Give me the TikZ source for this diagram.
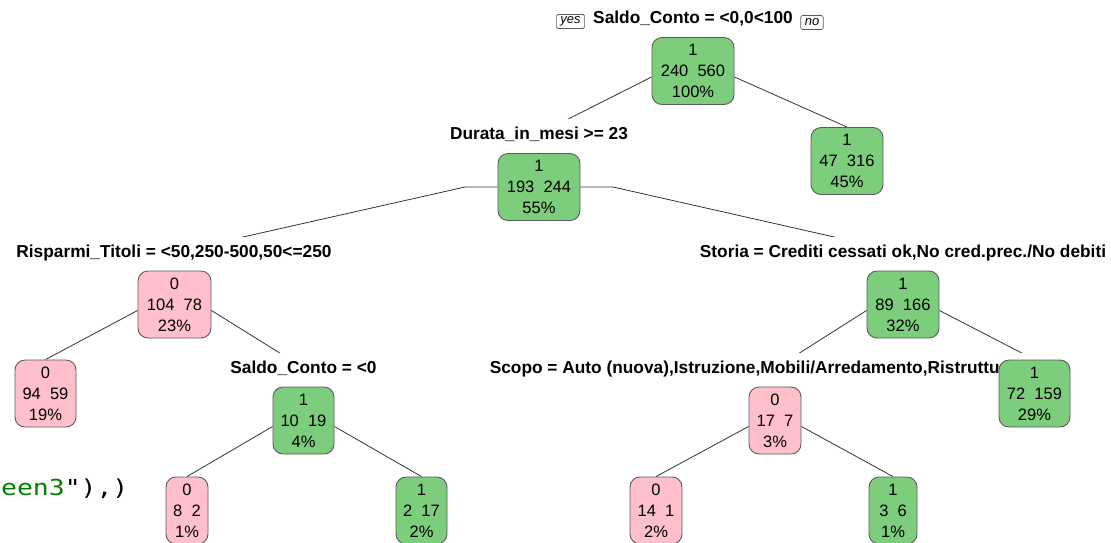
\documentclass[tikz,border=0pt]{standalone}
\usepackage{fontspec}
\setmainfont{Liberation Sans}
\newfontfamily\codefont[FakeStretch=1.2]{DejaVu Sans Mono}
\usetikzlibrary{backgrounds}
\definecolor{leafgreen}{HTML}{7CCD7C}
\definecolor{leafpink}{HTML}{FFC0CB}
\definecolor{boxborder}{HTML}{5A5A5A}
\definecolor{branchcol}{HTML}{333333}
\definecolor{codegreen}{HTML}{008000}

\begin{document}
\begin{tikzpicture}[x=1pt,y=-1pt,
  nodebox/.style={draw=boxborder, line width=0.9pt, rounded corners=10pt,
    minimum height=67pt, inner sep=0pt, align=center,
    font=\fontsize{16.5}{21}\selectfont},
  grn/.style={nodebox, fill=leafgreen},
  pnk/.style={nodebox, fill=leafpink},
  splitlabel/.style={anchor=base, fill=white, inner xsep=2pt, inner ysep=7.5pt,
    font=\bfseries\fontsize{17.3}{19}\selectfont},
  branch/.style={draw=branchcol, line width=0.8pt},
  tag/.style={draw=boxborder, line width=0.6pt, rounded corners=1.5pt,
    minimum height=14pt, inner xsep=4pt, inner ysep=1pt,
    font=\itshape\fontsize{13}{13}\selectfont}
]
\useasboundingbox (0,0) rectangle (1111,542);

% split conditions
\node[splitlabel] (rootL) at (693,23)  {Saldo\_Conto = <0,0<100};
\node[splitlabel] (durL)  at (539,139) {Durata\_in\_mesi >= 23};
\node[splitlabel] (risL)  at (174,257) {Risparmi\_Titoli = <50,250-500,50<=250};
\node[splitlabel] (stoL)  at (903,257) {Storia = Crediti cessati ok,No cred.prec./No debiti};
\node[splitlabel] (s0L)   at (303.5,373) {Saldo\_Conto = <0};
\node[splitlabel] (scoL)  at (775,373) {Scopo = Auto (nuova),Istruzione,Mobili/Arredamento,Ristrutturazione};

\node[tag] (yes) at (570.5,21.5) {yes};
\node[tag] (no)  at (812,22.5) {no};

% tree nodes: class, counts, share
\node[grn, minimum width=82pt] (root) at (693,71)    {1\\240~~560\\100\%};
\node[grn, minimum width=72pt] (r47)  at (847,161)   {1\\47~~316\\45\%};
\node[grn, minimum width=82pt] (dur)  at (539,187)   {1\\193~~244\\55\%};
\node[pnk, minimum width=73pt] (ris)  at (174.5,304.5) {0\\104~~78\\23\%};
\node[grn, minimum width=72pt] (sto)  at (903,304.5) {1\\89~~166\\32\%};
\node[pnk, minimum width=61pt] (n94)  at (45.5,393.5) {0\\94~~59\\19\%};
\node[grn, minimum width=61pt] (s0)   at (303.5,420.5) {1\\10~~19\\4\%};
\node[grn, minimum width=71pt] (n72)  at (1034.5,393.5) {1\\72~~159\\29\%};
\node[pnk, minimum width=52pt] (n17)  at (775,420.5) {0\\17~~7\\3\%};
\node[pnk, minimum width=42pt] (n8)   at (187,510.5) {0\\8~~2\\1\%};
\node[grn, minimum width=51pt] (n217) at (421.5,510.5) {1\\2~~17\\2\%};
\node[pnk, minimum width=52pt] (n14)  at (656,510.5) {0\\14~~1\\2\%};
\node[grn, minimum width=48pt] (n36)  at (893,510.5) {1\\3~~6\\1\%};

% shoulders of the second split
\coordinate (dl) at (465,187);
\coordinate (dr) at (613,187);

\begin{scope}[on background layer]
  \draw[branch] ([yshift=-6pt]root.west) -- (durL.center);
  \draw[branch] ([yshift=-6pt]root.east) -- (r47.north);
  \draw[branch] (dur.west) -- (dl) -- (risL.center);
  \draw[branch] (dur.east) -- (dr) -- (stoL.center);
  \draw[branch] ([yshift=-6pt]ris.west) -- (n94.north);
  \draw[branch] ([yshift=-6pt]ris.east) -- (s0L.center);
  \draw[branch] ([yshift=-6pt]sto.west) -- (scoL.center);
  \draw[branch] ([yshift=-6pt]sto.east) -- (n72.north);
  \draw[branch] ([yshift=-6pt]s0.west) -- (n8.north);
  \draw[branch] ([yshift=-6pt]s0.east) -- (n217.north);
  \draw[branch] ([yshift=-6pt]n17.west) -- (n14.north);
  \draw[branch] ([yshift=-6pt]n17.east) -- (n36.north);
\end{scope}

% stray line of R code at the left edge
\node[anchor=base west, inner sep=0pt, font=\codefont\fontsize{22}{22}\selectfont]
  (code) at (1,495) {\textcolor{codegreen}{een3}"),)};
\end{tikzpicture}
\end{document}
